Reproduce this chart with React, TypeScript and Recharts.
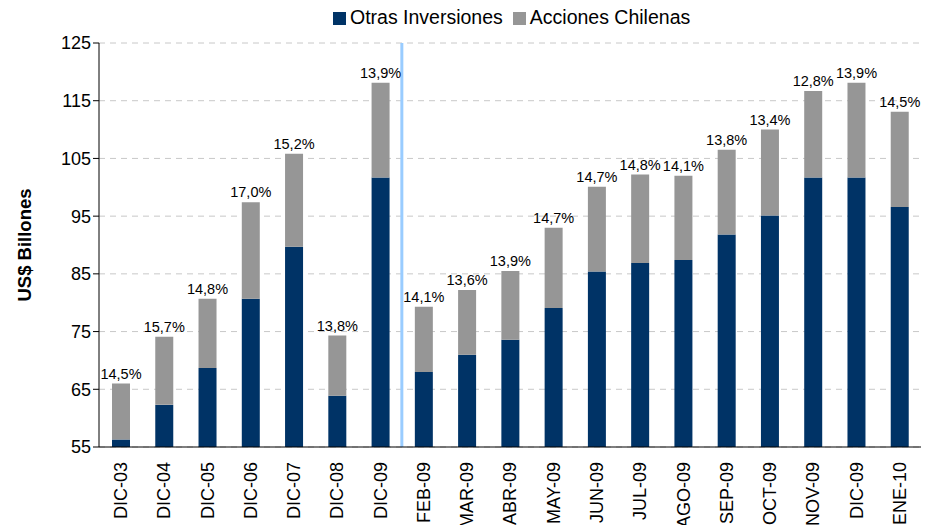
import { BarChart, Bar, XAxis, YAxis, CartesianGrid, Legend, LabelList, ReferenceLine } from 'recharts'

const months = [
  'DIC-03', 'DIC-04', 'DIC-05', 'DIC-06', 'DIC-07', 'DIC-08', 'DIC-09',
  'FEB-09', 'MAR-09', 'ABR-09', 'MAY-09', 'JUN-09', 'JUL-09', 'AGO-09',
  'SEP-09', 'OCT-09', 'NOV-09', 'DIC-09', 'ENE-10'
]

const otrasInversiones = [
  56.3, 62.3, 68.7, 80.7, 89.7, 63.9, 101.7,
  68.0, 71.0, 73.6, 79.1, 85.4, 86.9, 87.4,
  91.8, 95.1, 101.7, 101.7, 96.6
]

const totales = [
  66.0, 74.1, 80.7, 97.4, 105.8, 74.3, 118.1,
  79.3, 82.2, 85.5, 93.0, 100.1, 102.2, 102.0,
  106.5, 110.0, 116.7, 118.1, 113.1
]

const porcentajes = [
  '14,5%', '15,7%', '14,8%', '17,0%', '15,2%', '13,8%', '13,9%',
  '14,1%', '13,6%', '13,9%', '14,7%', '14,7%', '14,8%', '14,1%',
  '13,8%', '13,4%', '12,8%', '13,9%', '14,5%'
]

const yTicks = [55, 65, 75, 85, 95, 105, 115, 125]

// the annual series ends at index 6, monthly starts at index 7
const corte = 6.5

const data = months.map((m, i) => ({
  idx: i,
  month: m,
  otras: otrasInversiones[i],
  acciones: +(totales[i] - otrasInversiones[i]).toFixed(1),
  pct: porcentajes[i]
}))

const font = '"Liberation Sans", Arial, sans-serif'
const legendOrder = ['Otras Inversiones', 'Acciones Chilenas']

const MonthTick = (props: any) => {
  const { x, y, payload } = props
  return (
    <text
      x={x}
      y={y}
      transform={`rotate(-90, ${x}, ${y})`}
      textAnchor="end"
      dy="0.36em"
      fontSize={18}
      fontFamily={font}
      fill="#000"
    >
      {months[payload.value]}
    </text>
  )
}

export default function App() {
  return (
    <div style={{ width: 929, height: 525, fontFamily: font }}>
      <style>{'body{margin:0}'}</style>
      <BarChart
        width={929}
        height={525}
        data={data}
        margin={{ top: 43, right: 8, bottom: 0, left: 0 }}
      >
        <CartesianGrid vertical={false} stroke="#c8c8c8" strokeDasharray="6 5" />
        <XAxis
          dataKey="idx"
          type="number"
          domain={[-0.5, 18.5]}
          ticks={months.map((_, i) => i)}
          interval={0}
          height={78}
          tickLine={false}
          tickSize={0}
          tickMargin={15}
          axisLine={{ stroke: '#000' }}
          tick={<MonthTick />}
        />
        <YAxis
          domain={[55, 125]}
          allowDataOverflow
          ticks={yTicks}
          width={99}
          interval={0}
          axisLine={{ stroke: '#000' }}
          tickLine={{ stroke: '#000' }}
          tickSize={6}
          tick={{ fill: '#000', fontSize: 18, fontFamily: font }}
          label={{
            value: 'US$ Billones',
            angle: -90,
            position: 'insideLeft',
            offset: 24,
            style: { textAnchor: 'middle', fontWeight: 'bold', fontSize: 18.5, fill: '#000', fontFamily: font }
          }}
        />
        <Legend
          verticalAlign="middle"
          align="center"
          iconType="square"
          iconSize={13}
          itemSorter={(item: any) => legendOrder.indexOf(item.value)}
          wrapperStyle={{ top: 6, left: 333, width: 'auto', fontSize: 19.5, fontFamily: font }}
          formatter={(value: string) => <span style={{ color: '#000' }}>{value}</span>}
        />
        <ReferenceLine x={corte} stroke="#99ccff" strokeWidth={3} />
        <Bar dataKey="otras" name="Otras Inversiones" stackId="a" fill="#003366" barSize={18} isAnimationActive={false} />
        <Bar dataKey="acciones" name="Acciones Chilenas" stackId="a" fill="#969696" barSize={18} isAnimationActive={false}>
          <LabelList dataKey="pct" position="top" offset={5} fontSize={14.5} fill="#000" fontFamily={font} />
        </Bar>
      </BarChart>
    </div>
  )
}
